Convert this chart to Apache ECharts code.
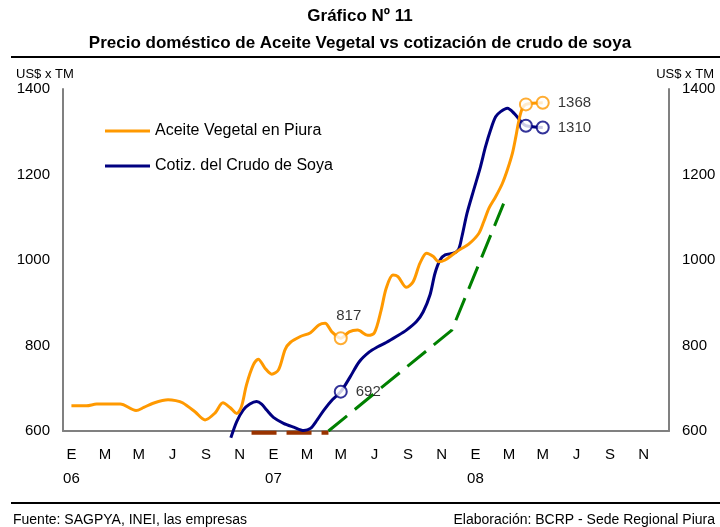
<!DOCTYPE html>
<html>
<head>
<meta charset="utf-8">
<script src="https://cdn.jsdelivr.net/npm/echarts@6/dist/echarts.min.js"></script>
<style>
html,body{margin:0;padding:0;background:#fff;}
#chart{width:720px;height:527px;}
</style>
</head>
<body>
<div id="chart"></div>
<script>
// Month labels (Spanish initials) and years
var monthNames = ['E','F','M','A','M','J','J','A','S','O','N','D'];
var years = ['06','07','08'];

// Series values: [month index (0 = Jan 2006), US$ x TM]
var aceiteVegetal = [
  [0,659],[0.9,659],[1.5,663],[2.9,663],[3.84,648],[4.3,655],[4.85,665],[5.74,673],[6.2,671],
  [6.6,666],[7.34,645],[7.94,626],[8.53,642],[9.0,666],[9.42,655],[9.82,641],[10.1,657],
  [10.4,708],[10.8,754],[11.1,768],[11.5,747],[11.9,733],[12.3,743],[12.7,791],[13.0,807],
  [13.6,821],[14.2,830],[14.7,848],[15.07,852],[15.47,832],[16,817],[16.5,832],[17.0,836],
  [17.6,824],[18.0,830],[18.4,883],[18.7,934],[19.1,965],[19.4,961],[19.9,936],[20.3,949],
  [20.7,992],[21.1,1016],[21.5,1008],[21.8,996],[22.2,1000],[22.7,1014],[23.1,1025],
  [23.6,1037],[24.2,1062],[24.5,1090],[24.8,1121],[25.2,1148],[25.6,1179],[25.9,1211],
  [26.2,1250],[26.4,1288],[26.55,1320],[26.75,1351],[27,1364],[28,1368]
];
var crudoSoya = [
  [9.47,584],[9.82,622],[10.2,649],[10.6,663],[11.0,669],[11.3,663],[11.6,649],[12.0,632],
  [12.6,618],[13.2,609],[13.8,601],[14.2,606],[14.6,626],[15.0,649],[15.5,673],[16,692],
  [16.55,726],[17.1,762],[17.7,785],[18.2,797],[18.7,807],[19.3,821],[19.9,836],[20.5,856],
  [20.9,879],[21.3,918],[21.6,969],[21.9,1000],[22.2,1012],[22.7,1016],[23.0,1025],
  [23.2,1055],[23.5,1109],[23.9,1164],[24.3,1218],[24.6,1265],[24.9,1304],[25.2,1335],
  [25.5,1347],[25.9,1355],[26.3,1343],[26.7,1324],[27,1314],[28,1310]
];
var tendenciaVerde = [[15.27,600],[22.6,836],[25.76,1140]];
var tendenciaMarron = [[10.7,596],[15.27,596]];

// Highlighted points: [month index, value, labelShown]
var aceiteMarks = [[16,817,true],[27,1364,false],[28,1368,true]];
var soyaMarks = [[16,692,true],[27,1314,false],[28,1310,true]];

var yTicks = {min:600, max:1400, interval:200};

var categories = [];
for (var y = 0; y < years.length; y++) {
  for (var m = 0; m < 12; m++) categories.push(monthNames[m] + (m === 0 ? '\n' + years[y] : ''));
}

var FONT = 'Liberation Sans, Arial, sans-serif';
var ORANGE = '#FF9900', NAVY = '#000080', GREEN = '#008000', BROWN = '#993300', GRAY = '#808080';

function markData(list, firstTop) {
  return list.map(function (p, i) {
    var lbl = (firstTop && i === 0)
      ? {show: p[2], position: 'top', distance: 8, offset: [8, 0], formatter: String(p[1])}
      : {show: p[2], position: 'right', distance: 8, formatter: String(p[1])};
    return {value: [p[0], p[1]], label: lbl};
  });
}

function yAxisDef(pos) {
  return {
    type: 'value', position: pos, min: yTicks.min, max: yTicks.max, interval: yTicks.interval,
    axisLine: {show: true, onZero: false, lineStyle: {color: GRAY, width: 2}},
    axisTick: {show: false}, splitLine: {show: false},
    axisLabel: {color: '#000', fontSize: 15, margin: 13, fontFamily: FONT,
      formatter: function (v) { return String(v); }}
  };
}

var chart = echarts.init(document.getElementById('chart'));
chart.setOption({
  animation: false,
  backgroundColor: '#fff',
  textStyle: {fontFamily: FONT},
  title: [
    {text: 'Gráfico Nº 11', left: 'center', top: 8, padding: 0, textStyle: {fontSize: 17, fontWeight: 'bold', color: '#000', fontFamily: FONT}},
    {text: 'Precio doméstico de Aceite Vegetal vs cotización de crudo de soya', left: 'center', top: 35, padding: 0, textStyle: {fontSize: 17, fontWeight: 'bold', color: '#000', fontFamily: FONT}},
    {text: 'US$ x TM', left: 16, top: 68, padding: 0, textStyle: {fontSize: 13, fontWeight: 'normal', color: '#000', fontFamily: FONT}},
    {text: 'US$ x TM', right: 6, top: 68, padding: 0, textStyle: {fontSize: 13, fontWeight: 'normal', color: '#000', fontFamily: FONT}},
    {text: 'Fuente: SAGPYA, INEI, las empresas', left: 13, top: 513, padding: 0, textStyle: {fontSize: 14, fontWeight: 'normal', color: '#000', fontFamily: FONT}},
    {text: 'Elaboración: BCRP - Sede Regional Piura', right: 5, top: 513, padding: 0, textStyle: {fontSize: 14, fontWeight: 'normal', color: '#000', fontFamily: FONT}}
  ],
  graphic: [
    {type: 'line', shape: {x1: 11, y1: 57, x2: 720, y2: 57}, style: {stroke: '#000', lineWidth: 2}},
    {type: 'line', shape: {x1: 11, y1: 503, x2: 720, y2: 503}, style: {stroke: '#000', lineWidth: 2}}
  ],
  legend: {
    data: ['Aceite Vegetal en Piura', 'Cotiz. del Crudo de Soya'],
    orient: 'vertical',
    left: 105, top: 123, padding: 0,
    itemWidth: 45, itemHeight: 3, itemGap: 19,
    icon: 'rect',
    textStyle: {fontSize: 16, color: '#000', fontFamily: FONT}
  },
  grid: {left: 63, right: 51, top: 89, bottom: 96, containLabel: false, outerBoundsMode: 'none'},
  xAxis: [
    {
      type: 'category', data: categories, boundaryGap: true, position: 'bottom',
      axisLine: {show: true, onZero: false, lineStyle: {color: GRAY, width: 2}},
      axisTick: {show: false},
      axisLabel: {interval: 1, color: '#000', fontSize: 15, lineHeight: 24, margin: 12, fontFamily: FONT},
      splitLine: {show: false}
    },
    {type: 'value', min: -0.5, max: 35.5, show: false}
  ],
  yAxis: [yAxisDef('left'), yAxisDef('right')],
  series: [
    {
      name: 'Tendencia marron', type: 'line', xAxisIndex: 1, yAxisIndex: 0, data: tendenciaMarron,
      symbol: 'none', clip: false,
      lineStyle: {color: BROWN, width: 4, type: [25, 10]}, z: 1
    },
    {
      name: 'Tendencia verde', type: 'line', xAxisIndex: 1, yAxisIndex: 0, data: tendenciaVerde,
      symbol: 'none', clip: false,
      lineStyle: {color: GREEN, width: 3, type: [24, 10]}, z: 1
    },
    {
      name: 'Aceite Vegetal en Piura', type: 'line', xAxisIndex: 1, yAxisIndex: 0, data: aceiteVegetal,
      symbol: 'none', smooth: 0.3, clip: false, itemStyle: {color: ORANGE},
      lineStyle: {color: ORANGE, width: 3}, z: 3
    },
    {
      name: 'Cotiz. del Crudo de Soya', type: 'line', xAxisIndex: 1, yAxisIndex: 0, data: crudoSoya,
      symbol: 'none', smooth: 0.3, clip: false, itemStyle: {color: NAVY},
      lineStyle: {color: NAVY, width: 3}, z: 2
    },
    {
      name: 'Aceite puntos', type: 'scatter', xAxisIndex: 1, yAxisIndex: 0,
      data: markData(aceiteMarks, true), symbol: 'circle', symbolSize: 12,
      itemStyle: {color: '#fff', borderColor: ORANGE, borderWidth: 2},
      label: {color: '#000', fontSize: 15, fontFamily: FONT}, z: 5
    },
    {
      name: 'Soya puntos', type: 'scatter', xAxisIndex: 1, yAxisIndex: 0,
      data: markData(soyaMarks, false), symbol: 'circle', symbolSize: 12,
      itemStyle: {color: '#fff', borderColor: NAVY, borderWidth: 2},
      label: {color: '#000', fontSize: 15, fontFamily: FONT}, z: 5
    }
  ]
});
</script>
</body>
</html>
